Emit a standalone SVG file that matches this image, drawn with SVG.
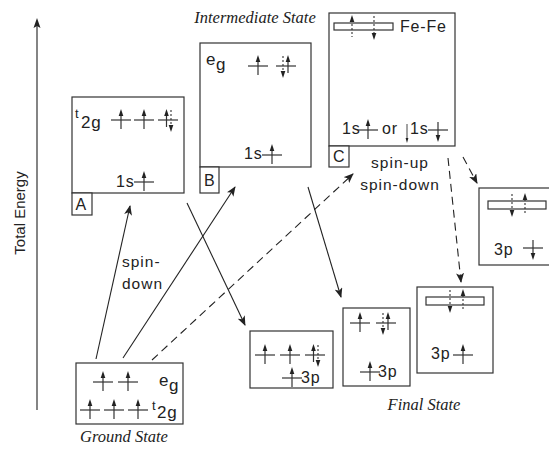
<svg xmlns="http://www.w3.org/2000/svg" xmlns:xlink="http://www.w3.org/1999/xlink" width="549" height="449" viewBox="0 0 549 449">
<style>
.box{fill:#fff;stroke:#333;stroke-width:1.2}
.ln{stroke:#333;stroke-width:1.2;fill:none}
.dot{stroke:#333;stroke-width:1.1;stroke-dasharray:2 2;fill:none}
.hd{fill:#222;stroke:none}
.t{font-family:"Liberation Sans",Arial,sans-serif;font-size:16px;fill:#222;letter-spacing:0.8px}
.big{font-family:"Liberation Sans",Arial,sans-serif;font-size:17px;fill:#222;letter-spacing:0.8px}
.sm{font-family:"Liberation Sans",Arial,sans-serif;font-size:13px;fill:#222}
.ax{font-family:"Liberation Sans",Arial,sans-serif;font-size:15px;fill:#222}
.lab{font-family:"Liberation Sans",Arial,sans-serif;font-size:15.5px;fill:#222;letter-spacing:1px}
.st{font-family:"Liberation Serif","Times New Roman",serif;font-style:italic;font-size:16.5px;fill:#222}
.con{stroke:#222;stroke-width:1.1;fill:none}
.dash{stroke:#222;stroke-width:1.1;fill:none;stroke-dasharray:8 5}
</style>
<defs>
<marker id="ah" markerWidth="10" markerHeight="8" refX="9" refY="4" orient="auto" markerUnits="userSpaceOnUse">
<path d="M0,0 L10,4 L0,8 L2.5,4 Z" fill="#222"/>
</marker>
<g id="up"><line class="ln" x1="-10" y1="0" x2="10" y2="0"/><line class="ln" x1="0" y1="9" x2="0" y2="-6"/><path class="hd" d="M0,-11 L-2.3,-4 L2.3,-4 Z"/></g>
<g id="dn"><line class="ln" x1="-10" y1="0" x2="10" y2="0"/><line class="ln" x1="0" y1="-8" x2="0" y2="7"/><path class="hd" d="M0,12 L-2.3,5 L2.3,5 Z"/></g>
<g id="pairA"><line class="ln" x1="-10" y1="0" x2="10" y2="0"/><line class="ln" x1="-1.5" y1="7" x2="-1.5" y2="-6"/><path class="hd" d="M-1.5,-11 L-3.8,-4 L0.8,-4 Z"/><line class="dot" x1="3" y1="-10" x2="3" y2="6"/><path class="hd" d="M3,12 L0.7,5 L5.3,5 Z"/></g>
<g id="pairB"><line class="ln" x1="-10" y1="0" x2="10" y2="0"/><line class="ln" x1="2" y1="7" x2="2" y2="-6"/><path class="hd" d="M2,-11 L-0.3,-4 L4.3,-4 Z"/><line class="dot" x1="-3" y1="-10" x2="-3" y2="6"/><path class="hd" d="M-3,12 L-5.3,5 L-0.7,5 Z"/></g>
<g id="fefeF"><rect class="box" x="0" y="0" width="58" height="8"/><line class="dot" x1="24" y1="-7" x2="24" y2="10"/><path class="hd" d="M24,16 L21.7,9 L26.3,9 Z"/><line class="dot" x1="37" y1="-2" x2="37" y2="14"/><path class="hd" d="M37,-8 L34.7,-1 L39.3,-1 Z"/></g>
</defs>

<g id="axis">
<line class="ln" x1="37" y1="410" x2="37" y2="24"/>
<path class="hd" d="M37,18 L33.5,28 L37,26 L40.5,28 Z"/>
<text class="ax" transform="translate(25,213) rotate(-90)" text-anchor="middle">Total Energy</text>
</g>

<g id="stateA">
<rect class="box" x="72" y="97" width="112" height="96"/>
<rect class="box" x="72" y="193" width="20" height="22"/>
<text class="t" x="75.5" y="210">A</text>
<text class="sm" x="75" y="118">t</text><text class="big" x="81" y="128">2g</text>
<use xlink:href="#up" x="121" y="120"/>
<use xlink:href="#up" x="144" y="120"/>
<use xlink:href="#pairA" x="168" y="120"/>
<text class="t" x="116" y="187">1s</text>
<use xlink:href="#up" x="144" y="182"/>
</g>

<g id="stateB">
<rect class="box" x="200" y="43" width="111" height="124"/>
<rect class="box" x="200" y="167" width="19" height="26"/>
<text class="t" x="204" y="186">B</text>
<text class="big" x="206" y="65">e</text><text class="big" x="216" y="70">g</text>
<use xlink:href="#up" x="258" y="66"/>
<use xlink:href="#pairB" x="286" y="66"/>
<text class="t" x="244" y="159">1s</text>
<use xlink:href="#up" x="272" y="155"/>
</g>

<g id="stateC">
<rect class="box" x="329" y="13" width="126" height="133"/>
<rect class="box" x="329" y="146" width="20" height="21"/>
<text class="t" x="333" y="162">C</text>
<rect class="box" x="334" y="23" width="59" height="7"/>
<line class="dot" x1="352" y1="20" x2="352" y2="37"/><path class="hd" d="M352,15 L349.7,22 L354.3,22 Z"/>
<line class="dot" x1="374" y1="16" x2="374" y2="34"/><path class="hd" d="M374,40 L371.7,33 L376.3,33 Z"/>
<text class="t" x="400" y="32">Fe-Fe</text>
<text class="t" x="342" y="134">1s</text>
<use xlink:href="#up" x="368" y="130"/>
<text class="t" x="382" y="134">or</text>
<line x1="407" y1="124" x2="407" y2="139" stroke="#333" stroke-width="0.9"/><path class="hd" d="M407,143 L405.6,138 L408.4,138 Z"/>
<text class="t" x="410" y="134">1s</text>
<use xlink:href="#dn" x="438" y="130"/>
</g>

<g id="ground">
<rect class="box" x="76" y="363" width="107" height="61"/>
<use xlink:href="#up" x="103" y="382"/>
<use xlink:href="#up" x="128" y="382"/>
<text class="big" x="159" y="386">e</text><text class="big" x="169" y="391">g</text>
<use xlink:href="#up" x="90" y="410"/>
<use xlink:href="#up" x="114" y="410"/>
<use xlink:href="#up" x="138" y="410"/>
<text class="sm" x="152" y="410">t</text><text class="big" x="157" y="418">2g</text>
</g>

<g id="final1">
<rect class="box" x="250" y="331" width="83" height="57"/>
<use xlink:href="#up" x="265" y="355"/>
<use xlink:href="#up" x="290" y="355"/>
<use xlink:href="#pairA" x="315" y="355"/>
<use xlink:href="#up" x="292" y="378"/>
<text class="t" x="301" y="383">3p</text>
</g>

<g id="final2">
<rect class="box" x="343" y="308" width="67" height="78"/>
<use xlink:href="#up" x="360" y="323"/>
<use xlink:href="#pairB" x="386" y="323"/>
<use xlink:href="#up" x="370" y="372"/>
<text class="t" x="378" y="377">3p</text>
</g>

<g id="final3">
<rect class="box" x="417" y="287" width="76" height="86"/>
<use xlink:href="#fefeF" x="426" y="297"/>
<text class="t" x="431" y="359">3p</text>
<use xlink:href="#up" x="463" y="355"/>
</g>

<g id="final4">
<rect class="box" x="479" y="188" width="80" height="77"/>
<use xlink:href="#fefeF" x="488" y="201"/>
<text class="t" x="494" y="255">3p</text>
<use xlink:href="#dn" x="533" y="248"/>
</g>

<g id="labels">
<text class="st" x="255" y="23" text-anchor="middle">Intermediate State</text>
<text class="st" x="424" y="410" text-anchor="middle">Final State</text>
<text class="st" x="124" y="442" text-anchor="middle">Ground State</text>
<text class="lab" x="122" y="267">spin-</text>
<text class="lab" x="122" y="289">down</text>
<text class="lab" x="400" y="168" text-anchor="middle">spin-up</text>
<text class="lab" x="400" y="190" text-anchor="middle">spin-down</text>
</g>

<g id="connectors">
<line class="con" x1="96" y1="359" x2="130" y2="206" marker-end="url(#ah)"/>
<line class="con" x1="123" y1="358" x2="235" y2="187" marker-end="url(#ah)"/>
<line class="dash" x1="152" y1="360" x2="353" y2="174" marker-end="url(#ah)"/>
<line class="con" x1="187" y1="203" x2="245" y2="325" marker-end="url(#ah)"/>
<line class="con" x1="308" y1="187" x2="341" y2="297" marker-end="url(#ah)"/>
<line class="dash" x1="448" y1="158" x2="461" y2="282" marker-end="url(#ah)"/>
<line class="dash" x1="463" y1="157" x2="477" y2="183" marker-end="url(#ah)"/>
</g>
</svg>
